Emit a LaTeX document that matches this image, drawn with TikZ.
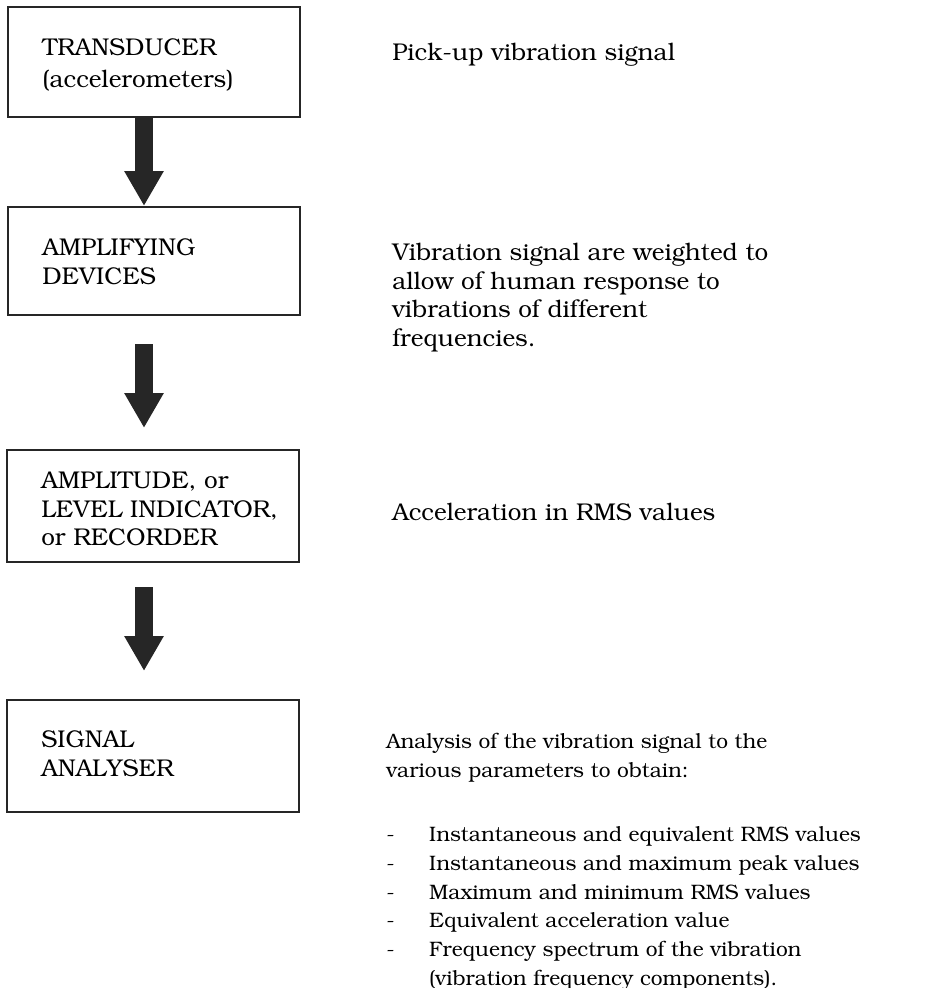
\documentclass[tikz,border=0pt]{standalone}
\usepackage[T1]{fontenc}
\usepackage{bookman}
\usetikzlibrary{arrows.meta,calc,positioning}

\begin{document}
\begin{tikzpicture}[x=0.02cm,y=-0.02cm,font=\fontsize{13.8}{16.4}\selectfont,
  box/.style={draw=black!85,line width=1.2pt,minimum width=5.84cm,inner sep=0pt},
  note/.style={anchor=north west,align=left,inner sep=0pt,execute at begin node=\strut},
  small/.style={font=\fontsize{11.9}{16.4}\selectfont},
  flow/.style={line width=10.2pt,black!85,-{Triangle[width=21pt,length=19.8pt]}}]
\useasboundingbox (0,0) rectangle (942,988);
% left column: the chain of instruments
\node[box,minimum height=2.2cm] (transducer) at (154,62) {};
\node[box,minimum height=2.16cm] (amplifier) at (154,261) {};
\node[box,minimum height=2.24cm] (indicator) at (153,506) {};
\node[box,minimum height=2.24cm] (analyser) at (153,756) {};
\node[note] (transducertxt) at ([shift={(35,32)}]transducer.north west) {TRANSDUCER\\[1.7pt](accelerometers)};
\node[note] (amplifiertxt) at ([shift={(35,32)}]amplifier.north west) {AMPLIFYING\\DEVICES};
\node[note] (indicatortxt) at ([shift={(35,22)}]indicator.north west) {AMPLITUDE, or\\LEVEL INDICATOR,\\or RECORDER};
\node[note] (analysertxt) at ([shift={(35,31)}]analyser.north west) {SIGNAL\\ANALYSER};
% block arrows
\coordinate (axis) at (144,0);
\draw[flow] (transducer.south -| axis) -- (amplifier.north -| axis);
\draw[flow] ($(amplifier.south -| axis)+(0,28)$) -- ($(indicator.north -| axis)+(0,-21)$);
\draw[flow] ($(indicator.south -| axis)+(0,24)$) -- ($(analyser.north -| axis)+(0,-28)$);
% right column: what each stage does
\node[note] (pickup) at (392,40) {Pick-up vibration signal};
\node[note] (weighting) at (392,243) {Vibration signal are weighted to\\allow of human response to\\vibrations of different\\frequencies.};
\node[note] (rms) at (392,500) {Acceleration in RMS values};
\node[note,small] (analysis) at (386,733) {Analysis of the vibration signal to the\\various parameters to obtain:};
\node[note,small] (params) at (386,821) {\begin{tabular}[t]{@{}p{24.4pt}@{}l@{}}
-&Instantaneous and equivalent RMS values\\
-&Instantaneous and maximum peak values\\
-&Maximum and minimum RMS values\\
-&Equivalent acceleration value\\
-&Frequency spectrum of the vibration\\
&(vibration frequency components).
\end{tabular}};
\end{tikzpicture}
\end{document}
